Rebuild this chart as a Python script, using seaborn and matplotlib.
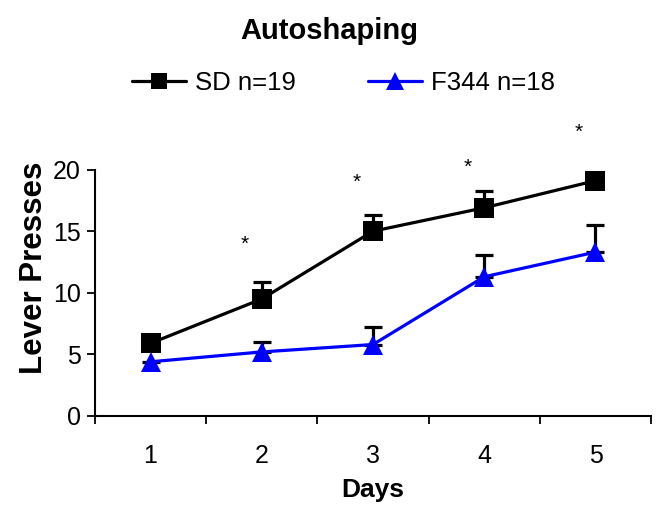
import numpy as np
import pandas as pd
import matplotlib
matplotlib.use("Agg")
import matplotlib.pyplot as plt
import seaborn as sns

# valores (nan = barra de error no visible)
days = [1, 2, 3, 4, 5]
sd_mean = [5.9, 9.5, 15.0, 16.9, 19.1]
sd_err = [np.nan, 1.4, 1.3, 1.4, 0.4]
f344_mean = [4.4, 5.2, 5.8, 11.3, 13.3]
f344_err = [np.nan, 0.8, 1.4, 1.75, 2.2]
star_days = [2, 3, 4, 5]
star_y = [13.9, 19.0, 20.2, 23.0]

sns.set_style("ticks")
plt.rcParams['font.family'] = ['Liberation Sans', 'DejaVu Sans']
plt.rcParams['text.color'] = 'black'
plt.rcParams['axes.labelcolor'] = 'black'
plt.rcParams['xtick.color'] = 'black'
plt.rcParams['ytick.color'] = 'black'
plt.rcParams['axes.edgecolor'] = 'black'

df = pd.DataFrame({
    'Days': days * 2,
    'Lever Presses': sd_mean + f344_mean,
    'grupo': ['SD n=19'] * 5 + ['F344 n=18'] * 5,
})

fig = plt.figure(figsize=(6.59, 5.07), dpi=100)
ax = fig.add_axes([0.144, 0.1795, 0.844, 0.486])

colores = {'SD n=19': 'black', 'F344 n=18': '#0000ff'}
marcadores = {'SD n=19': 's', 'F344 n=18': '^'}
tam = {'SD n=19': 14, 'F344 n=18': 15}

# barras de error (solo hacia arriba)
for media, err in [(sd_mean, sd_err), (f344_mean, f344_err)]:
    ax.errorbar(days, media, yerr=[np.zeros(5), err], fmt='none',
                ecolor='black', elinewidth=2.3, capsize=6.5, capthick=2.3,
                zorder=2, clip_on=False)

for g in ['SD n=19', 'F344 n=18']:
    sub = df[df['grupo'] == g]
    sns.lineplot(data=sub, x='Days', y='Lever Presses', ax=ax, color=colores[g],
                 marker=marcadores[g], markersize=tam[g], markeredgecolor=colores[g],
                 markeredgewidth=0, linewidth=2.3, label=g, zorder=3, clip_on=False)

for d, y in zip(star_days, star_y):
    ax.text(d - 0.15, y, '*', ha='center', va='center', fontsize=15, color='black')

ax.set_xlim(0.5, 5.5)
ax.set_ylim(0, 20)
ax.set_yticks([0, 5, 10, 15, 20])
ax.set_xticks(days)
ax.set_xticks([0.5, 1.5, 2.5, 3.5, 4.5, 5.5], minor=True)
ax.tick_params(axis='x', which='major', length=0, labelsize=18, pad=20)
ax.tick_params(axis='x', which='minor', length=6, width=1.3, direction='out')
ax.tick_params(axis='y', length=6, width=1.3, direction='out', labelsize=18, pad=4)
for s in ['left', 'bottom']:
    ax.spines[s].set_linewidth(1.5)
sns.despine(ax=ax)

ax.set_xlabel('Days', fontsize=19, fontweight='bold')
ax.set_ylabel('Lever Presses', fontsize=22.5, fontweight='bold')
ax.xaxis.set_label_coords(0.5, -0.25)
ax.yaxis.set_label_coords(-0.083, 0.6)

handles, labels = ax.get_legend_handles_labels()
ax.get_legend().remove()
fig.legend(handles, labels, loc='center', bbox_to_anchor=(0.521, 0.836), ncol=2,
           frameon=False, fontsize=18.5, handlelength=2.1, columnspacing=2.8,
           handletextpad=0.35, markerscale=0.85)

fig.text(0.5, 0.938, 'Autoshaping', ha='center', va='center', fontsize=21, fontweight='bold')

fig.savefig('out.png', dpi=100)
